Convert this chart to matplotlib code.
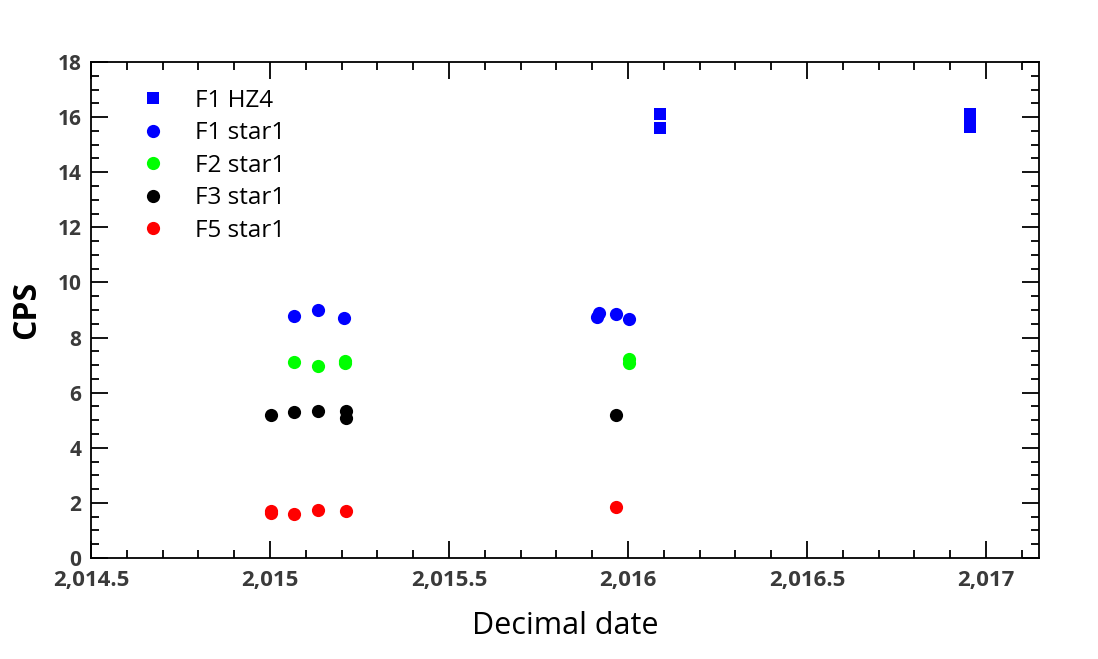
import numpy as np
import matplotlib.pyplot as plt
from matplotlib.ticker import MultipleLocator, FuncFormatter

# ---------------------- Data ----------------------
hz4_date = [2016.09, 2016.09, 2016.955, 2016.955, 2016.955, 2016.955]
hz4_cps = [16.10, 15.59, 16.12, 15.95, 15.80, 15.65]

f1_date = [2015.067, 2015.133, 2015.207, 2015.914, 2015.920, 2015.967, 2016.003]
f1_cps = [8.78, 9.00, 8.72, 8.73, 8.90, 8.84, 8.66]

f2_date = [2015.067, 2015.133, 2015.209, 2015.209, 2016.002, 2016.002]
f2_cps = [7.12, 6.97, 7.15, 7.08, 7.22, 7.06]

f3_date = [2015.002, 2015.067, 2015.133, 2015.211, 2015.211, 2015.967]
f3_cps = [5.19, 5.31, 5.33, 5.34, 5.09, 5.20]

f5_date = [2015.002, 2015.002, 2015.067, 2015.133, 2015.211, 2015.967]
f5_cps = [1.70, 1.64, 1.59, 1.74, 1.71, 1.85]

# ---------------------- Figure ----------------------
plt.rcParams['font.family'] = ['Open Sans', 'DejaVu Sans']
fig = plt.figure(figsize=(10.98, 6.59), dpi=100)
ax = fig.add_axes([0.0829, 0.1533, 0.8634, 0.7526])

ms = 9.5
ax.plot(hz4_date, hz4_cps, 's', color='#0000ff', ms=9, mew=0, label='F1 HZ4')
ax.plot(f1_date, f1_cps, 'o', color='#0000ff', ms=ms, mew=0, label='F1 star1')
ax.plot(f2_date, f2_cps, 'o', color='#00ff00', ms=ms, mew=0, label='F2 star1')
ax.plot(f3_date, f3_cps, 'o', color='#000000', ms=ms, mew=0, label='F3 star1')
ax.plot(f5_date, f5_cps, 'o', color='#ff0000', ms=ms, mew=0, label='F5 star1')

ax.set_xlim(2014.5, 2017.148)
ax.set_ylim(0, 18)

ax.xaxis.set_major_locator(MultipleLocator(0.5))
ax.xaxis.set_minor_locator(MultipleLocator(0.1))
ax.yaxis.set_major_locator(MultipleLocator(2))
ax.yaxis.set_minor_locator(MultipleLocator(0.5))
ax.xaxis.set_major_formatter(FuncFormatter(lambda v, p: format(v, ',g')))

ax.tick_params(which='both', direction='in', top=True, right=True,
               width=1.3, labelsize=15, labelcolor='#3a3a3a', pad=7)
ax.tick_params(axis='x', pad=9)
ax.tick_params(which='major', length=12)
ax.tick_params(which='minor', length=6)
for lab in ax.get_yticklabels():
    lab.set_fontweight('bold')
for lab in ax.get_xticklabels():
    lab.set_fontweight('bold')
    lab.set_family(['Liberation Sans Narrow', 'Open Sans'])
    lab.set_fontsize(16)
for sp in ax.spines.values():
    sp.set_linewidth(1.3)

ax.set_xlabel('Decimal date', fontsize=22, labelpad=14)
ax.set_ylabel('CPS', fontsize=23, fontweight='bold', labelpad=10)

ax.legend(loc='upper left', bbox_to_anchor=(0.03, 0.99), frameon=False,
          fontsize=17.5, handletextpad=1.2, labelspacing=0.35, handlelength=1)

plt.savefig('out.png', dpi=100)
